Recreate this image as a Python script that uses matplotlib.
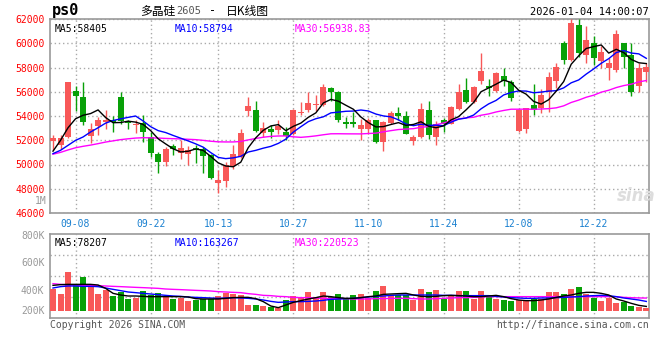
import numpy as np
import matplotlib.pyplot as plt

plt.rcParams['font.family'] = ['DejaVu Sans Mono', 'Noto Sans CJK SC']

# daily bars, 2025-09-03 .. 2025-12-31
opens = [51950, 51580, 52260, 56090, 55600, 52350, 53170, 53500, 53690, 55600,
         53600, 53270, 53440, 52300, 50900, 50220, 51530, 50980, 50900, 51360,
         51310, 50760, 48500, 48660, 49860, 50630, 54400, 54500, 52590, 52950,
         52810, 52670, 52480, 54230, 54530, 54910, 54920, 56310, 56010, 53470,
         53470, 52890, 52890, 53630, 51860, 53410, 54230, 54040, 51940, 52270,
         54530, 52270, 53630, 53360, 54590, 56170, 55135, 56910, 56500, 56040,
         57320, 56770, 52730, 52950, 54940, 54640, 55950, 56910, 60050, 58600,
         61500, 59010, 60000, 58550, 57920, 57790, 60000, 59040, 56450, 57590]
highs = [52400, 52400, 56800, 56500, 56830, 53410, 53900, 54530, 54040, 55950,
         53690, 53630, 54120, 52700, 51000, 51450, 51670, 51990, 51500, 51580,
         51450, 50900, 49530, 50220, 51580, 52950, 55540, 55270, 53500, 53220,
         53630, 53090, 54600, 55130, 55950, 55730, 56640, 56420, 56090, 53900,
         54310, 53770, 53850, 53690, 53580, 54450, 54780, 54450, 52400, 55050,
         55270, 53580, 53850, 54810, 56640, 57100, 56500, 59230, 57050, 57590,
         57950, 56960, 54590, 54700, 56640, 56230, 57650, 58410, 60190, 61970,
         61970, 61420, 60600, 59780, 58820, 61090, 60050, 60000, 58410, 58360]
lows = [51200, 51300, 52200, 54450, 53220, 51770, 52400, 52950, 52670, 53360,
        52890, 52590, 51850, 50650, 49300, 49860, 50760, 50490, 49940, 50130,
        49310, 48770, 47680, 48170, 49670, 50570, 54040, 52700, 52270, 52210,
        52480, 51990, 52400, 54120, 54310, 54400, 54860, 55220, 53500, 53000,
        53090, 51990, 52540, 51770, 51120, 53300, 53630, 52480, 51580, 52210,
        52130, 51580, 52680, 53300, 54510, 55050, 55080, 56640, 55680, 55950,
        56450, 55270, 52680, 52600, 54100, 54260, 54320, 56280, 58280, 58550,
        58900, 58410, 58200, 58000, 56990, 57590, 57920, 55630, 55950, 56830]
closes = [52200, 52200, 56770, 55630, 53500, 52900, 53710, 53630, 53500, 53580,
          53440, 53330, 52680, 50950, 50220, 51310, 51310, 51390, 51230, 51170,
          50710, 48850, 48710, 49940, 50850, 52590, 54860, 52760, 53030, 52650,
          53170, 52350, 54530, 54370, 55050, 55000, 56420, 56010, 53630, 53360,
          53360, 53220, 53690, 51860, 53500, 54230, 53990, 52540, 52270, 54590,
          52400, 53360, 53300, 54720, 55950, 55190, 56420, 57730, 56280, 57510,
          56860, 55460, 54530, 54640, 54530, 55760, 57240, 58060, 58600, 61690,
          59230, 60270, 58820, 59290, 58330, 60790, 58900, 56010, 57920, 58000]

ma5 = [51100, 51990, 53030, 53770, 54060, 54200, 54502, 53874, 53448, 53464,
       53572, 53496, 53306, 52796, 52124, 51698, 51294, 51036, 51092, 51282,
       51162, 50670, 50134, 49876, 49812, 50188, 51390, 52200, 52818, 53178,
       53294, 52792, 53146, 53414, 53894, 54260, 55074, 55370, 55222, 54884,
       54556, 53916, 53452, 53098, 53126, 53300, 53454, 53224, 53306, 53524,
       53158, 53032, 53184, 53674, 53946, 54504, 55116, 56002, 56314, 56626,
       56960, 56768, 56128, 55800, 55204, 54984, 55340, 56046, 56838, 58270,
       58964, 59570, 59722, 59860, 59188, 59500, 59226, 58664, 58390, 58324]
ma10 = [50900, 51170, 51580, 51990, 52270, 52680, 53030, 53410, 53630, 53762,
        53886, 53999, 53590, 53122, 52794, 52635, 52395, 52171, 51944, 51703,
        51430, 50982, 50585, 50484, 50547, 50675, 51030, 51167, 51347, 51495,
        51741, 52091, 52673, 53116, 53536, 53777, 53933, 54258, 54318, 54389,
        54408, 54495, 54411, 54160, 54005, 53928, 53685, 53338, 53202, 53325,
        53229, 53243, 53204, 53490, 53735, 53831, 54074, 54593, 54994, 55286,
        55732, 55942, 56065, 56057, 55915, 55972, 56054, 56087, 56319, 56737,
        56974, 57455, 57884, 58349, 58729, 59232, 59398, 59193, 59125, 58756]
ma30 = [50850, 51000, 51200, 51380, 51500, 51600, 51720, 51850, 51950, 52050,
        52120, 52180, 52210, 52200, 52180, 52150, 52130, 52110, 52080, 52050,
        51990, 51920, 51870, 51860, 51860, 51900, 52030, 52150, 52250, 52320,
        52352, 52357, 52283, 52241, 52292, 52362, 52453, 52532, 52536, 52529,
        52526, 52523, 52556, 52587, 52696, 52793, 52883, 52921, 52956, 53070,
        53126, 53276, 53429, 53589, 53759, 53845, 53897, 54063, 54171, 54333,
        54456, 54560, 54560, 54569, 54552, 54577, 54604, 54673, 54838, 55116,
        55312, 55547, 55718, 55965, 56126, 56345, 56509, 56624, 56813, 56926]

# volume, thousands
volume = [374, 289, 663, 459, 578, 459, 289, 357, 255, 323,
          204, 221, 340, 272, 306, 255, 204, 221, 170, 187,
          204, 204, 255, 306, 289, 272, 102, 102, 85, 68,
          51, 187, 255, 221, 323, 238, 323, 238, 289, 204,
          272, 289, 221, 340, 425, 272, 272, 272, 187, 374,
          323, 357, 204, 272, 340, 340, 204, 340, 272, 204,
          187, 170, 187, 170, 204, 204, 323, 323, 289, 374,
          408, 289, 221, 170, 221, 136, 153, 85, 68, 51]
vol_ma5 = [436, 448, 453, 453, 453, 453, 442, 385, 300, 272,
           255, 255, 249, 244, 244, 244, 244, 244, 238, 210,
           204, 204, 204, 215, 227, 232, 232, 210, 159, 85,
           57, 102, 147, 176, 204, 227, 255, 244, 227, 215,
           215, 227, 244, 255, 283, 289, 295, 300, 272, 249,
           244, 249, 261, 266, 261, 255, 244, 244, 255, 266,
           244, 210, 187, 176, 176, 187, 204, 232, 255, 272,
           300, 317, 317, 300, 272, 204, 170, 130, 96, 78]
vol_ma10 = [391, 414, 425, 425, 419, 419, 414, 391, 368, 346,
            323, 312, 300, 289, 278, 266, 255, 249, 238, 232,
            227, 221, 215, 221, 227, 221, 215, 204, 187, 164,
            147, 153, 159, 159, 164, 170, 181, 198, 204, 210,
            215, 227, 238, 249, 255, 266, 272, 272, 272, 272,
            272, 272, 266, 266, 261, 261, 261, 261, 261, 249,
            238, 227, 221, 215, 215, 221, 221, 227, 232, 238,
            244, 255, 261, 266, 261, 244, 221, 204, 187, 163]
vol_ma30 = [465, 453, 442, 442, 436, 436, 431, 425, 419, 414,
            408, 402, 397, 391, 385, 374, 368, 363, 357, 351,
            346, 340, 329, 323, 317, 312, 295, 283, 266, 261,
            249, 244, 232, 227, 227, 221, 215, 215, 210, 210,
            204, 204, 204, 210, 210, 215, 215, 215, 210, 204,
            204, 210, 215, 221, 227, 227, 232, 238, 244, 244,
            244, 244, 244, 244, 244, 244, 244, 244, 244, 244,
            244, 244, 244, 244, 244, 244, 232, 226, 222, 220]

date_idx = [3, 13, 22, 32, 42, 52, 62, 72]
date_lbl = ['09-08', '09-22', '10-13', '10-27', '11-10', '11-24', '12-08', '12-22']

RED = '#f85858'
GREEN = '#08a008'
GRID = '#aaaaaa'

o = np.array(opens); c = np.array(closes)
x = np.arange(len(closes))
cols = [RED if cc >= oo else GREEN for oo, cc in zip(o, c)]

W, H = 660, 360
def box(x0, y0, x1, y1):
    return [x0 / W, 1 - y1 / H, (x1 - x0) / W, (y1 - y0) / H]

fig = plt.figure(figsize=(6.6, 3.6), dpi=100)
ax = fig.add_axes(box(50, 19, 649, 213))
av = fig.add_axes(box(50, 234, 649, 318))

# price panel
ax.vlines(x, lows, highs, colors=cols, lw=1, zorder=3)
ax.bar(x, np.maximum(np.abs(c - o), 40), bottom=np.minimum(o, c), width=0.8,
       color=cols, linewidth=0, zorder=3)
ax.plot(x, ma30, color='#ff00ff', lw=1, zorder=4)
ax.plot(x, ma10, color='#0000ff', lw=1, zorder=4)
ax.plot(x, ma5, color='black', lw=1, zorder=4)
ax.set_xlim(-0.4, 79.36)
ax.set_ylim(46000, 62000)
ax.set_yticks(range(46000, 62001, 2000))
ax.set_xticks(date_idx)
ax.set_xticklabels(date_lbl)
ax.tick_params(axis='y', length=0, pad=4, labelsize=7, labelcolor='#ff0000')
ax.tick_params(axis='x', length=0, pad=4, labelsize=7, labelcolor='#1a80d0')
ax.grid(True, color=GRID, linestyle=(0, (1, 2)), lw=1)

ax.text(0.008, 0.975, 'MA5:58405', transform=ax.transAxes, fontsize=7, va='top', color='black')
ax.text(0.208, 0.975, 'MA10:58794', transform=ax.transAxes, fontsize=7, va='top', color='#0000ff')
ax.text(0.408, 0.975, 'MA30:56938.83', transform=ax.transAxes, fontsize=7, va='top', color='#ff00ff')
fig.text(47 / W, 1 - 201 / H, '1M', fontsize=7, color='#999999', ha='right', va='center')
fig.text(636 / W, 1 - 196 / H, 'sina', fontsize=12, style='italic', weight='bold',
         color='#dddddd', ha='center', va='center', family='DejaVu Sans')

# volume panel (K per px differs from the tick labels, as in the source chart)
vol = np.array(volume) * 1000
av.bar(x, vol, width=0.8, color=cols, linewidth=0, zorder=3)
av.plot(x, np.array(vol_ma30) * 1000, color='#ff00ff', lw=1, zorder=4)
av.plot(x, np.array(vol_ma10) * 1000, color='#0000ff', lw=1, zorder=4)
av.plot(x, np.array(vol_ma5) * 1000, color='black', lw=1, zorder=4)
av.set_xlim(-0.4, 79.36)
av.set_ylim(-119000, 1309000)
av.set_xticks(date_idx)
av.set_xticklabels([])
av.set_yticks([17000, 357000, 833000, 1300000])
av.set_yticklabels(['200K', '400K', '600K', '800K'])
av.tick_params(axis='y', length=0, pad=4, labelsize=7, labelcolor='#999999')
av.tick_params(axis='x', length=0)
av.grid(True, axis='x', color=GRID, linestyle=(0, (1, 2)), lw=1)
for gy in [238000, 595000, 952000]:
    av.axhline(gy, color=GRID, linestyle=(0, (1, 2)), lw=1, zorder=1)

av.text(0.008, 0.95, 'MA5:78207', transform=av.transAxes, fontsize=7, va='top', color='black')
av.text(0.208, 0.95, 'MA10:163267', transform=av.transAxes, fontsize=7, va='top', color='#0000ff')
av.text(0.408, 0.95, 'MA30:220523', transform=av.transAxes, fontsize=7, va='top', color='#ff00ff')

for a in (ax, av):
    for s in a.spines.values():
        s.set_color('#999999')
        s.set_linewidth(1.2)

# header and footer
fig.text(52 / W, 1 - 11 / H, 'ps0', fontsize=11, weight='bold', va='center', color='black')
fig.text(140 / W, 1 - 11 / H, '多晶硅', fontsize=8.5, va='center', family='Noto Sans CJK SC')
fig.text(176 / W, 1 - 11 / H, '2605', fontsize=7.5, va='center', color='#555555')
fig.text(209 / W, 1 - 11 / H, '-', fontsize=8.5, va='center', family='DejaVu Sans Mono')
fig.text(226 / W, 1 - 11 / H, '日K线图', fontsize=8.5, va='center',
         family=['Noto Sans CJK SC', 'DejaVu Sans'])
fig.text(649 / W, 1 - 12 / H, '2026-01-04 14:00:07', fontsize=7.5, ha='right', va='center')
fig.text(50 / W, 1 - 325 / H, 'Copyright 2026 SINA.COM', fontsize=7, va='center', color='#555555')
fig.text(649 / W, 1 - 325 / H, 'http://finance.sina.com.cn', fontsize=7, ha='right', va='center',
         color='#555555')

fig.savefig('out.png', dpi=100, facecolor='white')
